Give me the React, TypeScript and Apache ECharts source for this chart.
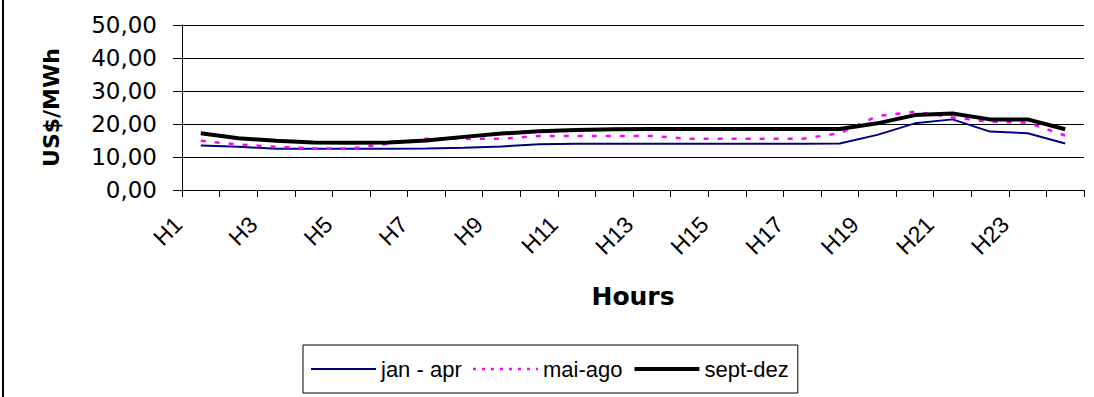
import React, { useEffect, useRef } from "react";
import * as echarts from "echarts";

const hours = ["H1","H2","H3","H4","H5","H6","H7","H8","H9","H10","H11","H12","H13","H14","H15","H16","H17","H18","H19","H20","H21","H22","H23","H24"];
const janApr = [13.5, 13.1, 12.5, 12.5, 12.5, 12.5, 12.6, 12.8, 13.2, 13.9, 14.0, 14.0, 14.0, 14.0, 14.0, 14.0, 14.0, 14.1, 16.7, 20.2, 21.4, 17.7, 17.2, 14.1];
const maiAgo = [14.9, 13.8, 13.1, 12.6, 12.6, 14.0, 15.5, 15.5, 15.5, 16.4, 16.4, 16.4, 16.4, 15.5, 15.5, 15.5, 15.5, 17.2, 22.4, 23.7, 22.0, 20.7, 20.4, 16.5];
const septDez = [17.2, 15.7, 14.9, 14.4, 14.3, 14.4, 15.0, 16.1, 17.1, 17.8, 18.2, 18.4, 18.5, 18.5, 18.5, 18.5, 18.5, 18.5, 20.2, 22.7, 23.2, 21.4, 21.4, 18.4];
const seriesNames = ["jan - apr", "mai-ago", "sept-dez"];

export default function App() {
  const ref = useRef<HTMLDivElement>(null);
  useEffect(() => {
    const chart = echarts.init(ref.current!, undefined, { renderer: "svg" });
    chart.setOption({
      animation: false,
      backgroundColor: "#ffffff",
      graphic: [
        { type: "rect", left: 2, top: 0, shape: { width: 2, height: 397 }, style: { fill: "#000" } },
      ],
      grid: { left: 182, right: 10, top: 25, bottom: 207, containLabel: false },
      legend: {
        left: 303,
        top: 345,
        orient: "horizontal",
        padding: [13, 9, 13, 7],
        itemGap: 10,
        itemWidth: 65,
        itemHeight: 14,
        borderColor: "#000",
        borderWidth: 1,
        itemStyle: { opacity: 0 },
        textStyle: { fontFamily: "Liberation Sans", fontSize: 22, color: "#000" },
        data: [
          { name: seriesNames[0], lineStyle: { width: 2, color: "#000080" } },
          { name: seriesNames[1], lineStyle: { width: 2.5, color: "#FF00FF", type: [3, 6] } },
          { name: seriesNames[2], lineStyle: { width: 4, color: "#000000" } },
        ],
      },
      xAxis: {
        type: "category",
        data: hours,
        boundaryGap: true,
        name: "Hours",
        nameLocation: "middle",
        nameGap: 94,
        nameTextStyle: { fontFamily: "DejaVu Sans", fontWeight: "bold", fontSize: 25, color: "#000" },
        axisLine: { lineStyle: { color: "#000", width: 1 } },
        axisTick: { show: true, interval: 0, length: 7, lineStyle: { color: "#000" } },
        axisLabel: {
          interval: 1,
          rotate: 45,
          margin: 8,
          padding: [0, 32, 0, 0],
          fontFamily: "Liberation Sans",
          fontSize: 23,
          color: "#000",
        },
        splitLine: { show: false },
      },
      yAxis: {
        type: "value",
        min: 0,
        max: 50,
        interval: 10,
        name: "US$/MWh",
        nameLocation: "middle",
        nameGap: 120,
        nameRotate: 90,
        nameTextStyle: { fontFamily: "DejaVu Sans", fontWeight: "bold", fontSize: 22, color: "#000" },
        axisLine: { show: true, lineStyle: { color: "#000", width: 1 } },
        axisTick: { show: true, length: 9, lineStyle: { color: "#000" } },
        axisLabel: {
          margin: 25,
          fontFamily: "DejaVu Sans",
          fontSize: 23,
          color: "#000",
          formatter: (v: number) => v.toFixed(2).replace(".", ","),
        },
        splitLine: { show: true, lineStyle: { color: "#000", width: 1 } },
      },
      series: [
        {
          name: seriesNames[0],
          type: "line",
          data: janApr,
          symbol: "none",
          lineStyle: { color: "#000080", width: 2 },
          itemStyle: { color: "#000080" },
        },
        {
          name: seriesNames[1],
          type: "line",
          data: maiAgo,
          symbol: "none",
          lineStyle: { color: "#FF00FF", width: 2.5, type: [5, 9] },
          itemStyle: { color: "#FF00FF" },
        },
        {
          name: seriesNames[2],
          type: "line",
          data: septDez,
          symbol: "none",
          lineStyle: { color: "#000000", width: 4 },
          itemStyle: { color: "#000000" },
        },
      ],
    });
    return () => chart.dispose();
  }, []);
  return (
    <div
      ref={ref}
      style={{ position: "absolute", left: 0, top: 0, width: 1094, height: 397 }}
    />
  );
}
